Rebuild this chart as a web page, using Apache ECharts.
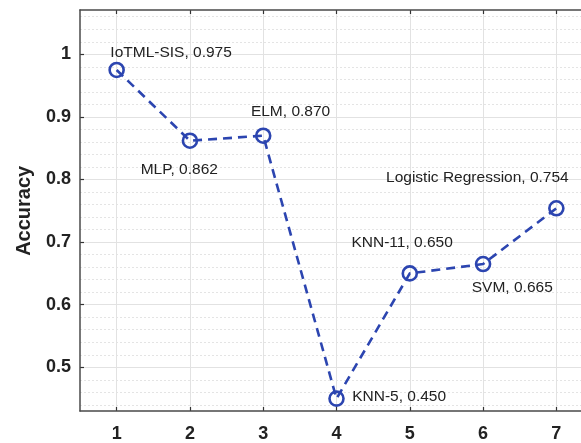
<!DOCTYPE html>
<html>
<head>
<meta charset="utf-8">
<script src="https://cdn.jsdelivr.net/npm/echarts@6/dist/echarts.min.js"></script>
<style>html,body{margin:0;padding:0;background:#fff;}#c{width:581px;height:443px;}</style>
</head>
<body>
<div id="c"></div>
<script>
// ---- data ----
const positions = [1, 2, 3, 4, 5, 6, 7];
const methods = ['IoTML-SIS', 'MLP', 'ELM', 'KNN-5', 'KNN-11', 'SVM', 'Logistic Regression'];
const accuracy = [0.975, 0.862, 0.870, 0.450, 0.650, 0.665, 0.754];
const xTicks = [1, 2, 3, 4, 5, 6, 7];
const yTicks = [0.5, 0.6, 0.7, 0.8, 0.9, 1];
const yTitle = 'Accuracy';

// ---- layout (pixel offsets of annotation text from its point) ----
const labelOffsets = [[-5, -16], [-48, 30], [-11, -23], [17, -1], [-57, -29], [-10, 25], [-169, -29]];

const FONT = '"Liberation Sans", Arial, Helvetica, sans-serif';
const BLUE = '#2c45b0';
const SYM = 14;

const seriesData = positions.map((x, i) => ({
  value: [x, accuracy[i]],
  label: {
    show: true,
    formatter: methods[i] + ', ' + accuracy[i].toFixed(3),
    position: [labelOffsets[i][0] + SYM / 2, labelOffsets[i][1] + SYM / 2],
    align: 'left',
    verticalAlign: 'middle',
    color: '#222',
    fontSize: 15.5,
    fontFamily: FONT
  }
}));

const L = 80, T = 10, W = 513, H = 401;
const pxPerUnitX = W / 7;
const pxPerUnitY = 626;
const yOf = v => 54.3 + (1 - v) * pxPerUnitY;
const frameLine = {show: true, lineStyle: {color: '#4a4a4a', width: 1.5}};

const chart = echarts.init(document.getElementById('c'), null, {renderer: 'canvas'});
chart.setOption({
  backgroundColor: '#fff',
  animation: false,
  grid: [
    {left: L, top: T, width: W, height: H, outerBoundsMode: 'none', containLabel: false, show: false},
    {left: L + pxPerUnitX * 0.5, top: T, width: pxPerUnitX * 6, height: H, outerBoundsMode: 'none', containLabel: false},
    {left: L, top: yOf(1), width: W, height: yOf(0.5) - yOf(1), outerBoundsMode: 'none', containLabel: false},
    {left: L, top: yOf(1.06), width: W, height: yOf(0.44) - yOf(1.06), outerBoundsMode: 'none', containLabel: false}
  ],
  xAxis: [
    {gridIndex: 0, type: 'value', min: 0.5, max: 7.5, position: 'bottom', z: 3,
      axisLine: frameLine, axisTick: {show: false}, axisLabel: {show: false}, splitLine: {show: false}},
    {gridIndex: 1, type: 'value', min: xTicks[0], max: xTicks[xTicks.length - 1], interval: 1, position: 'bottom', z: 2,
      axisLine: {show: false},
      axisTick: {show: true, inside: true, length: 4, lineStyle: {color: '#333', width: 1.2}},
      axisLabel: {margin: 14, color: '#222', fontSize: 18, fontWeight: 'bold', fontFamily: FONT,
        formatter: v => xTicks.includes(v) ? String(v) : ''},
      splitLine: {show: true, lineStyle: {color: '#e2e2e2', width: 1}}},
    {gridIndex: 1, type: 'value', min: xTicks[0], max: xTicks[xTicks.length - 1], interval: 1, position: 'top', z: 2,
      axisLine: {show: false},
      axisTick: {show: true, inside: true, length: 4, lineStyle: {color: '#333', width: 1.2}},
      axisLabel: {show: false}, splitLine: {show: false}},
    {gridIndex: 2, type: 'value', min: 0, max: 1, show: false},
    {gridIndex: 3, type: 'value', min: 0, max: 1, show: false},
    {gridIndex: 0, type: 'value', min: 0.5, max: 7.5, position: 'top', z: 3,
      axisLine: frameLine, axisTick: {show: false}, axisLabel: {show: false}, splitLine: {show: false}}
  ],
  yAxis: [
    {gridIndex: 0, type: 'value', min: 0.4302, max: 1.0708, position: 'left', z: 3,
      axisLine: frameLine, axisTick: {show: false}, axisLabel: {show: false}, splitLine: {show: false}},
    {gridIndex: 1, type: 'value', min: 0, max: 1, show: false},
    {gridIndex: 2, type: 'value', min: yTicks[0], max: yTicks[yTicks.length - 1], interval: 0.1, position: 'left', z: 1,
      name: yTitle, nameLocation: 'middle', nameGap: 46, nameRotate: 90,
      nameTextStyle: {color: '#222', fontSize: 20, fontWeight: 'bold', fontFamily: FONT},
      axisLine: {show: false},
      axisTick: {show: true, inside: true, length: 4, lineStyle: {color: '#333', width: 1.2}},
      axisLabel: {margin: 9, color: '#222', fontSize: 18, fontWeight: 'bold', fontFamily: FONT,
        formatter: v => { const t = yTicks.find(k => Math.abs(k - v) < 1e-6); return t === undefined ? '' : String(t); }},
      splitLine: {show: true, lineStyle: {color: '#e2e2e2', width: 1}}},
    {gridIndex: 3, type: 'value', min: 0.44, max: 1.06, interval: 0.02, position: 'left', z: 0,
      axisLine: {show: false}, axisTick: {show: false}, axisLabel: {show: false},
      splitLine: {show: true, lineStyle: {color: '#e4e4e4', width: 1, type: [2, 2]}}}
  ],
  series: [{
    type: 'line',
    xAxisIndex: 0, yAxisIndex: 0,
    z: 5,
    data: seriesData,
    symbol: 'circle',
    symbolSize: SYM,
    itemStyle: {color: 'rgba(0,0,0,0)', borderColor: BLUE, borderWidth: 2.6},
    lineStyle: {color: BLUE, width: 2.6, type: [9, 6]},
    clip: false
  }]
});
</script>
</body>
</html>
